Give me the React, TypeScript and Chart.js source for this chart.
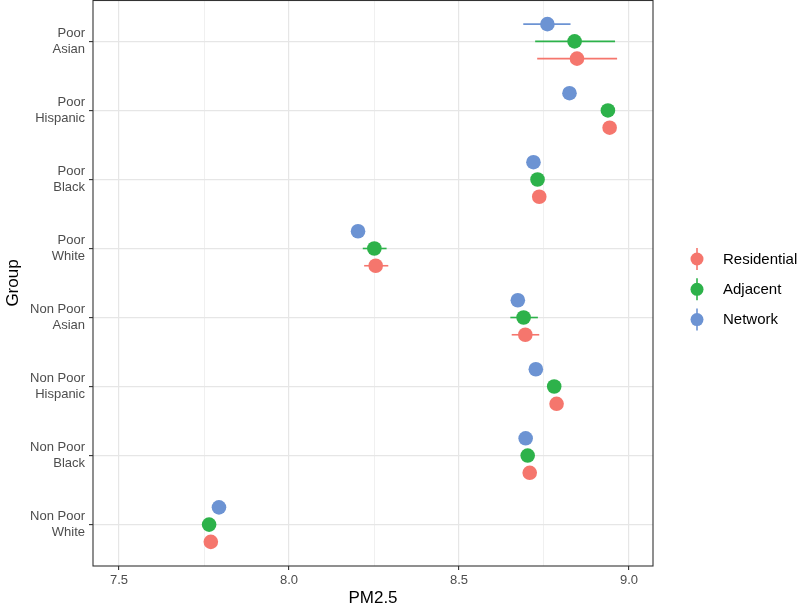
import React, { useEffect, useRef } from "react";
import { Chart, registerables } from "chart.js";

Chart.register(...registerables);

// Categories, top to bottom
const GROUPS: string[][] = [
  ["Poor", "Asian"],
  ["Poor", "Hispanic"],
  ["Poor", "Black"],
  ["Poor", "White"],
  ["Non Poor", "Asian"],
  ["Non Poor", "Hispanic"],
  ["Non Poor", "Black"],
  ["Non Poor", "White"],
];

const SERIES = ["Residential", "Adjacent", "Network"];
const COLORS = ["#F5766D", "#2DB24A", "#6C93D3"];

const RES = [8.847, 8.943, 8.736, 8.255, 8.695, 8.787, 8.708, 7.770];
const RES_LO = [8.730, 8.934, 8.727, 8.221, 8.655, 8.778, 8.699, 7.762];
const RES_HI = [8.965, 8.952, 8.745, 8.292, 8.736, 8.796, 8.717, 7.778];

const ADJ = [8.840, 8.938, 8.731, 8.251, 8.690, 8.780, 8.702, 7.765];
const ADJ_LO = [8.724, 8.929, 8.722, 8.217, 8.651, 8.771, 8.694, 7.757];
const ADJ_HI = [8.959, 8.947, 8.740, 8.287, 8.732, 8.789, 8.710, 7.773];

const NET = [8.760, 8.825, 8.719, 8.203, 8.673, 8.726, 8.696, 7.794];
const NET_LO = [8.689, 8.816, 8.710, 8.194, 8.664, 8.717, 8.687, 7.785];
const NET_HI = [8.828, 8.834, 8.728, 8.212, 8.682, 8.735, 8.705, 7.803];

const VALUES = [RES, ADJ, NET];
const LOWS = [RES_LO, ADJ_LO, NET_LO];
const HIGHS = [RES_HI, ADJ_HI, NET_HI];
const DODGE = [0.25, 0, -0.25];

const X_TICKS = [7.5, 7.75, 8.0, 8.25, 8.5, 8.75, 9.0];
const X_MIN = 7.4235;
const X_MAX = 9.0706;
const Y_MIN = -0.6;
const Y_MAX = 7.6;

const FONT = "'Liberation Sans', Arial, Helvetica, sans-serif";

const isMajor = (v: number) => Math.abs(v * 2 - Math.round(v * 2)) < 1e-6;

const errorBarPlugin = {
  id: "errorBars",
  beforeDatasetsDraw(chart: any) {
    const ctx = chart.ctx;
    const xs = chart.scales.x;
    const ys = chart.scales.y;
    ctx.save();
    ctx.lineWidth = 1.6;
    SERIES.forEach((_, s) => {
      ctx.strokeStyle = COLORS[s];
      GROUPS.forEach((__, j) => {
        const y = ys.getPixelForValue(j + DODGE[s]);
        ctx.beginPath();
        ctx.moveTo(xs.getPixelForValue(LOWS[s][j]), y);
        ctx.lineTo(xs.getPixelForValue(HIGHS[s][j]), y);
        ctx.stroke();
      });
    });
    ctx.restore();
  },
};

const panelPlugin = {
  id: "panelAndLegend",
  afterDraw(chart: any) {
    const ctx = chart.ctx;
    const a = chart.chartArea;
    ctx.save();
    ctx.strokeStyle = "#333333";
    ctx.lineWidth = 1.1;
    ctx.strokeRect(a.left, a.top + 0.5, a.right - a.left, a.bottom - a.top - 0.5);

    // legend
    const cy = (a.top + a.bottom) / 2;
    const mx = a.right + 44;
    SERIES.forEach((name, k) => {
      const y = cy - 24 + k * 30.3;
      ctx.strokeStyle = COLORS[k];
      ctx.lineWidth = 1.6;
      ctx.beginPath();
      ctx.moveTo(mx, y - 11);
      ctx.lineTo(mx, y + 11);
      ctx.stroke();
      ctx.fillStyle = COLORS[k];
      ctx.beginPath();
      ctx.arc(mx, y, 6.5, 0, Math.PI * 2);
      ctx.fill();
      ctx.fillStyle = "#000000";
      ctx.font = `15px ${FONT}`;
      ctx.textBaseline = "middle";
      ctx.textAlign = "left";
      ctx.fillText(name, mx + 26, y + 0.5);
    });
    ctx.restore();
  },
};

export default function App() {
  const ref = useRef<HTMLCanvasElement | null>(null);

  useEffect(() => {
    if (!ref.current) return;
    const chart = new Chart(ref.current, {
      type: "scatter",
      data: {
        datasets: SERIES.map((name, s) => ({
          label: name,
          data: GROUPS.map((_, j) => ({ x: VALUES[s][j], y: j + DODGE[s] })),
          backgroundColor: COLORS[s],
          borderColor: COLORS[s],
          borderWidth: 0,
          pointRadius: 7.3,
          pointHoverRadius: 7.3,
        })),
      },
      options: {
        animation: false,
        responsive: false,
        events: [],
        layout: { autoPadding: false, padding: { left: 0, top: 0, right: 146, bottom: 0 } },
        plugins: {
          legend: { display: false },
          tooltip: { enabled: false },
        },
        scales: {
          x: {
            type: "linear",
            min: X_MIN,
            max: X_MAX,
            afterBuildTicks: (s: any) => {
              s.ticks = X_TICKS.map((v) => ({ value: v }));
            },
            afterFit: (s: any) => {
              s.height = 41;
              s.paddingLeft = 0;
              s.paddingRight = 0;
            },
            ticks: {
              autoSkip: false,
              maxRotation: 0,
              padding: 3,
              color: "#4D4D4D",
              font: { family: FONT, size: 13 },
              callback: (v: any) => (isMajor(Number(v)) ? Number(v).toFixed(1) : ""),
            },
            grid: {
              color: "#E6E6E6",
              lineWidth: (c: any) => (isMajor(c.tick.value) ? 1.2 : 0.6),
              tickColor: (c: any) => (isMajor(c.tick.value) ? "#333333" : "rgba(0,0,0,0)"),
              tickLength: 4,
              tickWidth: 1.1,
            },
            border: { display: false },
            title: {
              display: true,
              text: "PM2.5",
              color: "#000000",
              font: { family: FONT, size: 17, lineHeight: 1 },
              padding: { top: 0, bottom: 0 },
            },
          },
          y: {
            type: "linear",
            reverse: true,
            min: Y_MIN,
            max: Y_MAX,
            afterBuildTicks: (s: any) => {
              s.ticks = GROUPS.map((_, j) => ({ value: j }));
            },
            afterFit: (s: any) => {
              s.width = 93;
              s.paddingTop = 0;
              s.paddingBottom = 0;
            },
            ticks: {
              autoSkip: false,
              padding: 4,
              color: "#4D4D4D",
              font: { family: FONT, size: 13, lineHeight: 1.22 },
              callback: (v: any) => GROUPS[Math.round(Number(v))] || "",
            },
            grid: {
              color: "#E6E6E6",
              lineWidth: 1.2,
              tickColor: "#333333",
              tickLength: 4,
              tickWidth: 1.1,
            },
            border: { display: false },
            title: {
              display: true,
              text: "Group",
              color: "#000000",
              font: { family: FONT, size: 17, lineHeight: 1 },
              padding: 5,
            },
          },
        },
      },
      plugins: [errorBarPlugin, panelPlugin],
    } as any);
    return () => chart.destroy();
  }, []);

  return (
    <div style={{ position: "absolute", left: 0, top: 0, width: 799, height: 607 }}>
      <canvas ref={ref} width={799} height={607} style={{ display: "block" }} />
    </div>
  );
}
